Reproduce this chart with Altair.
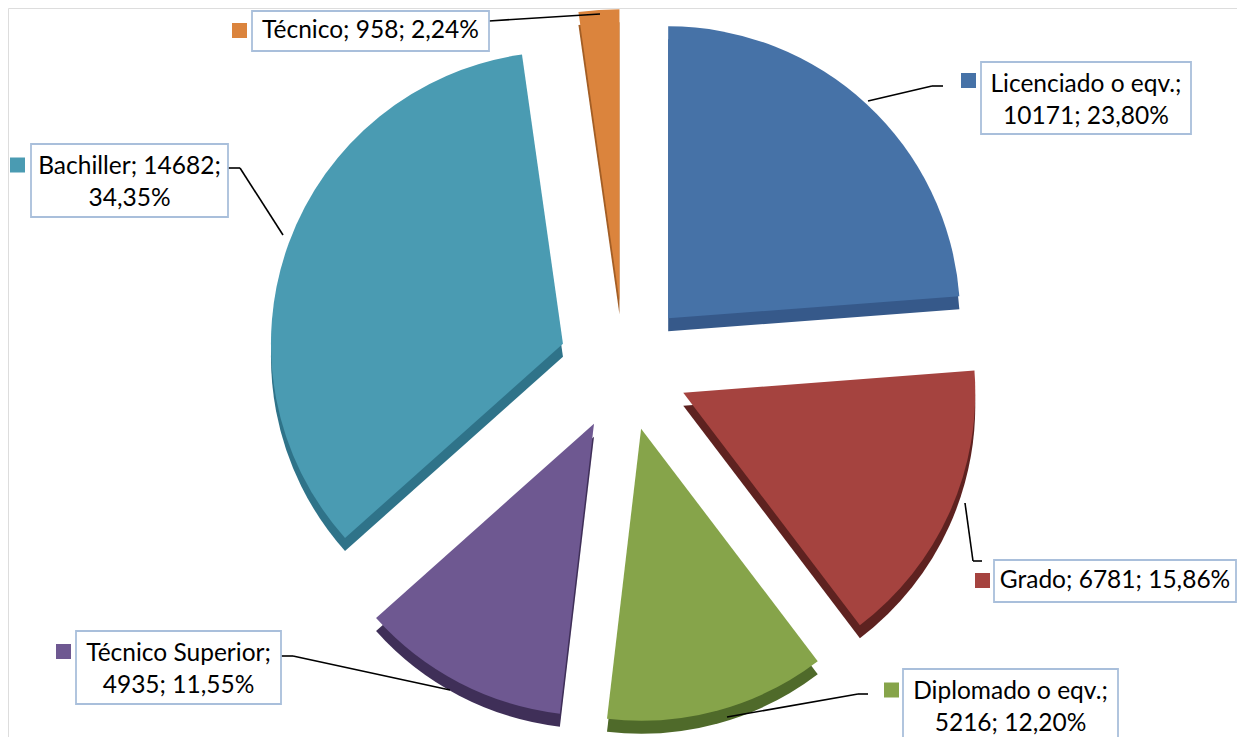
import altair as alt
import pandas as pd

# ---------------- data ----------------
categories = ["Licenciado o eqv.", "Grado", "Diplomado o eqv.", "Técnico Superior", "Bachiller", "Técnico"]
values = [10171, 6781, 5216, 4935, 14682, 958]
percents = ["23,80%", "15,86%", "12,20%", "11,55%", "34,35%", "2,24%"]

# ---------------- styles ----------------
top_colors = ["#4672A7", "#A5433F", "#86A44A", "#6E5891", "#4A9BB2", "#DB843D"]
side_colors = ["#36598A", "#5E2220", "#4F6A2A", "#3F2F58", "#2F7389", "#A35E25"]
# where each label wraps: after the name, after the value, or not at all
wrap_after = ["name", "none", "name", "name", "value", "none"]

# ---------------- layout (screen pixels) ----------------
W, H = 1229, 729
X0, Y0 = 8, 8
CX, CY, EXPLODE, R, DEPTH = 624, 366, 65, 292, 13
LINE_H = 32

# label boxes: x0, x1, y0, y1 ; marker centre
boxes = [
    (981, 1191, 62, 134), (994, 1236, 560, 602), (903, 1118, 669, 760),
    (76, 281, 631, 704), (31, 228, 144, 217), (252, 489, 11, 51),
]
markers = [(968.5, 80.5), (982.5, 580.5), (891.5, 690), (63.5, 651.5), (17.5, 165), (239.5, 30.5)]
# leader line polylines
leaders = [
    [(868, 101), (932, 86), (943, 86)],
    [(965, 503), (973, 561), (982, 561)],
    [(727, 717), (858, 694), (868, 694)],
    [(450, 690), (293, 656), (281, 656)],
    [(283, 235), (240, 168), (228, 168)],
    [(600, 14), (489, 21)],
]

xs = alt.Scale(domain=[X0, X0 + W])
ys = alt.Scale(domain=[Y0, Y0 + H], reverse=True)

pie_df = pd.DataFrame({
    "name": categories,
    "value": values,
    "order": list(range(len(categories))),
    "fill": top_colors,
    "side": side_colors,
})

base = (
    alt.Chart(pie_df)
    .transform_joinaggregate(total="sum(value)")
    .transform_window(cum="sum(value)", sort=[alt.SortField("order")], frame=[None, 0])
    .transform_calculate(
        t0="2*PI*(datum.cum - datum.value)/datum.total",
        t1="2*PI*datum.cum/datum.total",
    )
    .transform_calculate(mid="(datum.t0 + datum.t1)/2")
    .transform_calculate(
        cx=f"{CX} + {EXPLODE}*sin(datum.mid)",
        cy=f"{CY} - {EXPLODE}*cos(datum.mid)",
    )
    .transform_calculate(cy_side=f"datum.cy + {DEPTH}")
)

side = base.mark_arc(radius=R).encode(
    x=alt.X("cx:Q", scale=xs, axis=None),
    y=alt.Y("cy_side:Q", scale=ys, axis=None),
    theta=alt.Theta("t0:Q", scale=None, stack=False),
    theta2="t1:Q",
    color=alt.Color("side:N", scale=None),
)

top = base.mark_arc(radius=R).encode(
    x=alt.X("cx:Q", scale=xs, axis=None),
    y=alt.Y("cy:Q", scale=ys, axis=None),
    theta=alt.Theta("t0:Q", scale=None, stack=False),
    theta2="t1:Q",
    color=alt.Color("fill:N", scale=None),
)

# labels
texts, first_y = [], []
for c, v, p, w, b in zip(categories, values, percents, wrap_after, boxes):
    if w == "name":
        texts.append(f"{c};\n{v}; {p}")
        first_y.append(b[2] + 23)
    elif w == "value":
        texts.append(f"{c}; {v};\n{p}")
        first_y.append(b[2] + 23)
    else:
        texts.append(f"{c}; {v}; {p}")
        first_y.append((b[2] + b[3]) / 2)

lab_df = pd.DataFrame({
    "name": categories,
    "text": texts,
    "bx0": [b[0] for b in boxes],
    "bx1": [b[1] for b in boxes],
    "by0": [b[2] for b in boxes],
    "by1": [b[3] for b in boxes],
    "tx": [(b[0] + b[1]) / 2 for b in boxes],
    "ty": first_y,
    "mx": [m[0] for m in markers],
    "my": [m[1] for m in markers],
    "fill": top_colors,
})

box_layer = alt.Chart(lab_df).mark_rect(fill="white", stroke="#A9BFDB", strokeWidth=1.8).encode(
    x=alt.X("bx0:Q", scale=xs, axis=None),
    x2="bx1:Q",
    y=alt.Y("by0:Q", scale=ys, axis=None),
    y2="by1:Q",
)

text_layer = alt.Chart(lab_df).mark_text(
    font="Lato", fontSize=24.5, lineHeight=LINE_H, align="center", baseline="middle",
    lineBreak="\n", color="#000000",
).encode(
    x=alt.X("tx:Q", scale=xs, axis=None),
    y=alt.Y("ty:Q", scale=ys, axis=None),
    text="text:N",
)

marker_layer = alt.Chart(lab_df).mark_square(size=225, opacity=1).encode(
    x=alt.X("mx:Q", scale=xs, axis=None),
    y=alt.Y("my:Q", scale=ys, axis=None),
    color=alt.Color("fill:N", scale=None),
)

seg_rows = []
for pts in leaders:
    for (a, b) in zip(pts[:-1], pts[1:]):
        seg_rows.append({"x": a[0], "y": a[1], "x2": b[0], "y2": b[1]})
seg_df = pd.DataFrame(seg_rows)

line_layer = alt.Chart(seg_df).mark_rule(color="#000000", strokeWidth=1.6).encode(
    x=alt.X("x:Q", scale=xs, axis=None),
    y=alt.Y("y:Q", scale=ys, axis=None),
    x2="x2:Q",
    y2="y2:Q",
)

chart = (
    alt.layer(side, top, line_layer, box_layer, marker_layer, text_layer)
    .properties(width=W, height=H, autosize=alt.AutoSizeParams(type="none"), padding=0)
    .configure_view(strokeWidth=0)
    .configure(background="white")
)

chart.save("out.html", embed_options={"renderer": "svg", "actions": False})
